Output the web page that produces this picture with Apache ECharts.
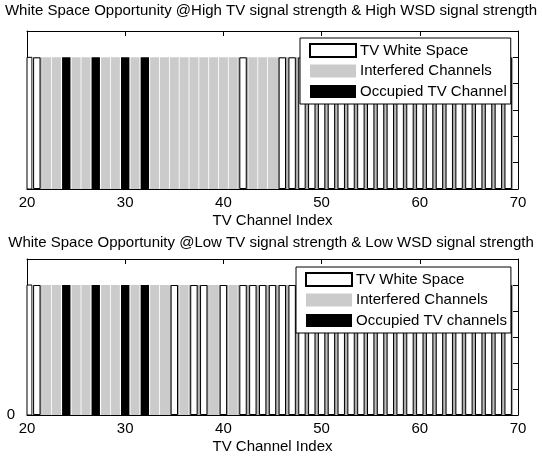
<!DOCTYPE html>
<html>
<head>
<meta charset="utf-8">
<script src="https://cdn.jsdelivr.net/npm/echarts@6/dist/echarts.min.js"></script>
<style>
  html, body { margin: 0; padding: 0; background: #fff; }
  #chart { width: 542px; height: 457px; }
</style>
</head>
<body>
<div id="chart"></div>
<script>
// TV channels 20..69, state of each: W = white space, I = interfered, O = occupied
var channels = [20, 21, 22, 23, 24, 25, 26, 27, 28, 29, 30, 31, 32, 33, 34, 35, 36, 37, 38, 39,
  40, 41, 42, 43, 44, 45, 46, 47, 48, 49, 50, 51, 52, 53, 54, 55, 56, 57, 58, 59,
  60, 61, 62, 63, 64, 65, 66, 67, 68, 69];
var highState = ["W", "W", "I", "I", "O", "I", "I", "O", "I", "I", "O", "I", "O", "I", "I", "I", "I", "I", "I", "I",
  "I", "I", "W", "I", "I", "I", "W", "W", "W", "W", "W", "W", "W", "W", "W", "W", "W", "W", "W", "W",
  "W", "W", "W", "W", "W", "W", "W", "W", "W", "W"];
var lowState = ["W", "W", "I", "I", "O", "I", "I", "O", "I", "I", "O", "I", "O", "I", "I", "W", "I", "W", "W", "I",
  "W", "I", "W", "W", "W", "W", "W", "W", "W", "W", "W", "W", "W", "W", "W", "W", "W", "W", "W", "W",
  "W", "W", "W", "W", "W", "W", "W", "W", "W", "W"];
var titles = [
  "White Space Opportunity @High TV signal strength & High WSD signal strength",
  "White Space Opportunity @Low TV signal strength & Low WSD signal strength"
];
var occupiedNames = ["Occupied TV Channel", "Occupied TV channels"];

var FONT = "'Liberation Sans', Arial, Helvetica, sans-serif";

function pick(state, code) {
  var out = [];
  for (var i = 0; i < channels.length; i++) {
    if (state[i] === code) out.push([channels[i], 1]);
  }
  return out;
}

// white bar sitting on the left axis edge, clipped to the plot area
function edgeBar(params, api) {
  var x = api.value(0), y = api.value(1);
  var top = api.coord([x - 0.5, y]);
  var bottom = api.coord([x + 0.5, 0]);
  var rect = echarts.graphic.clipRectByRect(
    { x: top[0], y: top[1], width: bottom[0] - top[0], height: bottom[1] - top[1] },
    { x: params.coordSys.x, y: params.coordSys.y, width: params.coordSys.width, height: params.coordSys.height }
  );
  if (!rect) return;
  return {
    type: "rect",
    shape: rect,
    style: { fill: "#fff", stroke: "#000", lineWidth: 1 }
  };
}

var chart = echarts.init(document.getElementById("chart"));

var grids = [
  { left: 27, width: 491, top: 31, height: 158 },
  { left: 27, width: 491, top: 259, height: 156 }
];
var legendPos = [
  { left: 300, top: 38 },
  { left: 296, top: 267 }
];
var titleTop = [3, 235];

var xAxes = [], yAxes = [], series = [], legends = [], titleList = [];

[highState, lowState].forEach(function (state, g) {
  // 4 x axes per grid: bottom, top mirror, two hidden for overlapping bar layers
  for (var k = 0; k < 4; k++) {
    xAxes.push({
      gridIndex: g,
      type: "value",
      min: 20,
      max: 70,
      interval: 10,
      show: k < 2,
      position: k === 1 ? "top" : "bottom",
      name: k === 0 ? "TV Channel Index" : "",
      nameLocation: "middle",
      nameGap: 24,
      nameTextStyle: { color: "#000", fontSize: 15, fontFamily: FONT },
      axisLine: { onZero: false, lineStyle: { color: "#000", width: 1 } },
      axisTick: { show: true, inside: true, length: 5, lineStyle: { color: "#000" } },
      axisLabel: {
        show: k === 0,
        color: "#000",
        fontSize: 15,
        fontFamily: FONT,
        margin: 6
      },
      splitLine: { show: false }
    });
  }
  for (var j = 0; j < 2; j++) {
    yAxes.push({
      gridIndex: g,
      type: "value",
      min: 0,
      max: 1.2,
      interval: 0.2,
      position: j === 0 ? "left" : "right",
      axisLine: { show: true, lineStyle: { color: "#000", width: 1 } },
      axisTick: { show: true, inside: true, length: 5, lineStyle: { color: "#000" } },
      axisLabel: {
        show: j === 0 && g === 1,
        color: "#000",
        fontSize: 15,
        fontFamily: FONT,
        margin: 12,
        formatter: function (v) { return v === 0 ? "0" : ""; }
      },
      splitLine: { show: false }
    });
  }

  var whites = pick(state, "W");
  var inner = whites.filter(function (d) { return d[0] > 20; });
  var edge = whites.filter(function (d) { return d[0] === 20; });
  // gray fill that shows between the white bars
  series.push({
    type: "bar",
    name: "gap" + g,
    xAxisIndex: 4 * g,
    yAxisIndex: 2 * g,
    barWidth: 9.8,
    data: inner,
    itemStyle: { color: "#a9a9a9" },
    silent: true
  });
  series.push({
    type: "bar",
    name: "Interfered Channels",
    xAxisIndex: 4 * g + 1,
    yAxisIndex: 2 * g,
    barWidth: 9,
    data: pick(state, "I"),
    itemStyle: { color: "#cbcbcb" }
  });
  series.push({
    type: "bar",
    name: "TV White Space",
    xAxisIndex: 4 * g + 2,
    yAxisIndex: 2 * g,
    barWidth: 7.4,
    data: inner,
    itemStyle: { color: "#fff", borderColor: "#000", borderWidth: 1 }
  });
  series.push({
    type: "custom",
    name: "edge" + g,
    xAxisIndex: 4 * g + 2,
    yAxisIndex: 2 * g,
    renderItem: edgeBar,
    data: edge,
    silent: true
  });
  series.push({
    type: "bar",
    name: occupiedNames[g],
    xAxisIndex: 4 * g + 3,
    yAxisIndex: 2 * g,
    barWidth: 8.4,
    data: pick(state, "O"),
    itemStyle: { color: "#000" }
  });

  legends.push({
    left: legendPos[g].left,
    top: legendPos[g].top,
    orient: "vertical",
    icon: "rect",
    itemWidth: 46,
    itemHeight: 13,
    itemGap: 5.5,
    padding: [5, 4, 5, 9],
    backgroundColor: "#fff",
    borderColor: "#000",
    borderWidth: 1,
    selectedMode: false,
    textStyle: { color: "#000", fontSize: 15, fontFamily: FONT, lineHeight: 13, padding: [0, 0, 0, -1] },
    data: ["TV White Space", "Interfered Channels", occupiedNames[g]]
  });

  titleList.push({
    text: titles[g],
    left: "center",
    top: titleTop[g],
    padding: 0,
    textStyle: { color: "#000", fontSize: 15, fontWeight: "normal", fontFamily: FONT }
  });
});

chart.setOption({
  animation: false,
  backgroundColor: "#fff",
  title: titleList,
  grid: grids,
  legend: legends,
  xAxis: xAxes,
  yAxis: yAxes,
  series: series
});
</script>
</body>
</html>
